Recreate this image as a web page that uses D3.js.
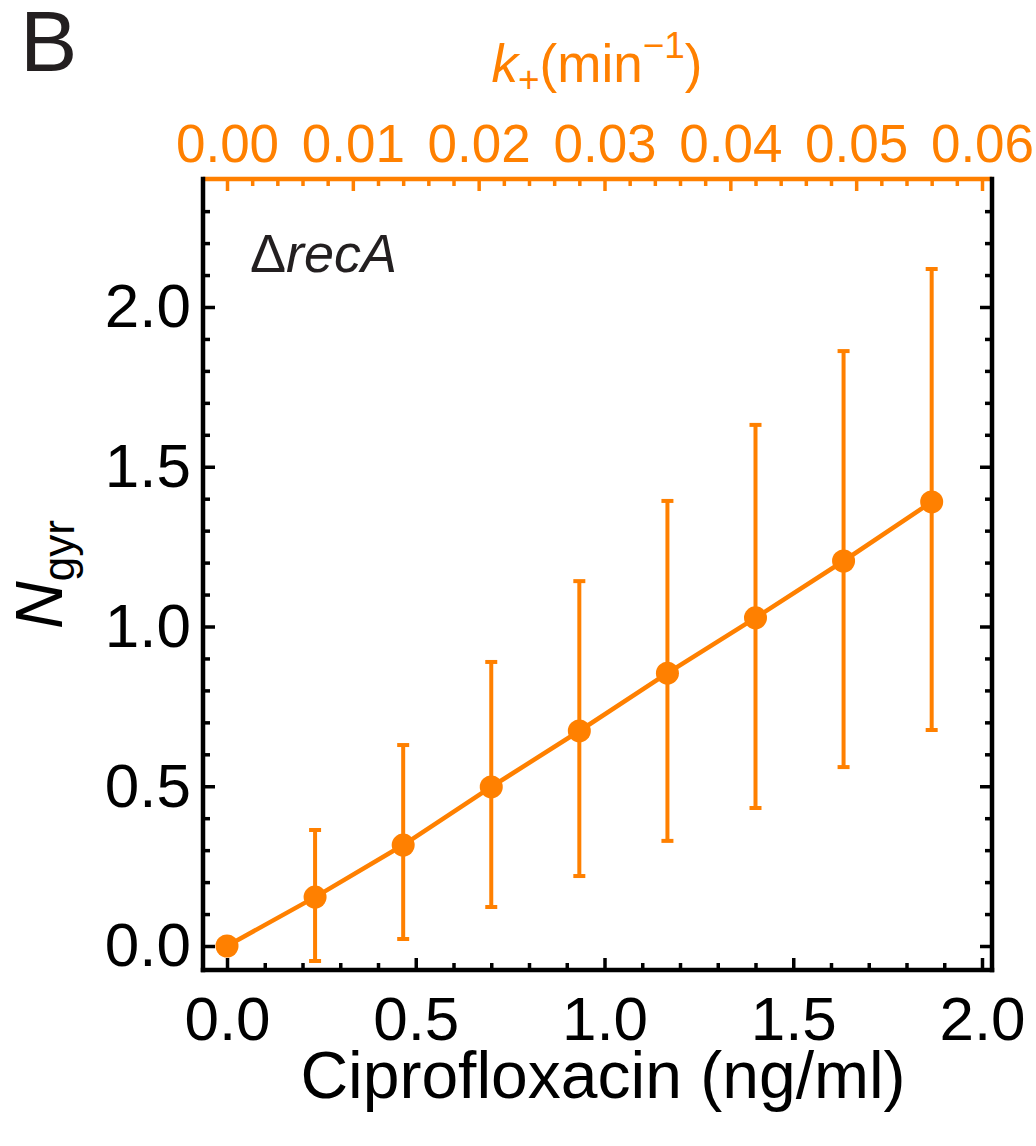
<!DOCTYPE html>
<html>
<head>
<meta charset="utf-8">
<script src="https://cdn.jsdelivr.net/npm/d3@7"></script>
<style>
    body { margin: 0; background: #fff; }
    text { font-family: "Liberation Sans", Arial, sans-serif; }
</style>
</head>
<body>
<svg id="plot"></svg>
<script>
'use strict';

const width = 1036;
const height = 1146;
const orange = '#ff8000';

// ciprofloxacin dose (ng/ml) and N_gyr with error bar ends
const ciproDose = [0, 0.2333, 0.4667, 0.7, 0.9333, 1.1667, 1.4, 1.6333, 1.8667];
const nGyrMean = [0, 0.153, 0.316, 0.498, 0.673, 0.854, 1.027, 1.205, 1.390];
const nGyrUpper = [null, 0.363, 0.629, 0.889, 1.142, 1.393, 1.631, 1.862, 2.119];
const nGyrLower = [null, -0.047, 0.022, 0.122, 0.219, 0.329, 0.432, 0.560, 0.676];

const xTicks = [0, 0.5, 1.0, 1.5, 2.0];
const yTicks = [0, 0.5, 1.0, 1.5, 2.0];
const kTicks = [0, 0.01, 0.02, 0.03, 0.04, 0.05, 0.06];
const kPerDose = 0.03;

const frame = {left: 203, right: 992, top: 179, bottom: 970};

const svg = d3.select('#plot').attr('width', width).attr('height', height);

const x = d3.scaleLinear().domain([-0.0636, 2.0265]).range([frame.left, frame.right]);
const y = d3.scaleLinear().domain([-0.0751, 2.4006]).range([frame.bottom, frame.top]);
const k = d3.scaleLinear()
    .domain(x.domain().map(d => d * kPerDose))
    .range([frame.left, frame.right]);

const minorX = d3.range(0, 2.01, 0.1).filter(d => !xTicks.some(t => Math.abs(t - d) < 1e-6));
const minorY = d3.range(0, 2.39, 0.1).filter(d => !yTicks.some(t => Math.abs(t - d) < 1e-6));
const minorK = d3.range(0, 0.0601, 0.002).filter(d => !kTicks.some(t => Math.abs(t - d) < 1e-6));

function styleAxis(g, color, size) {
    g.select('.domain').remove();
    g.selectAll('line').attr('stroke', color).attr('stroke-width', 3.5);
    g.selectAll('text').attr('fill', color).style('font-size', size + 'px');
}

function renderAxes() {
    // bottom
    svg.append('g').attr('transform', `translate(0,${frame.bottom})`)
        .call(d3.axisBottom(x).tickValues(minorX).tickSize(-7).tickFormat(''))
        .call(g => styleAxis(g, '#000', 62));
    svg.append('g').attr('transform', `translate(0,${frame.bottom})`)
        .call(d3.axisBottom(x).tickValues(xTicks).tickSize(-12).tickPadding(26).tickFormat(d3.format('.1f')))
        .call(g => styleAxis(g, '#000', 62));

    // left
    svg.append('g').attr('transform', `translate(${frame.left},0)`)
        .call(d3.axisLeft(y).tickValues(minorY).tickSize(-7).tickFormat(''))
        .call(g => styleAxis(g, '#000', 62));
    svg.append('g').attr('transform', `translate(${frame.left},0)`)
        .call(d3.axisLeft(y).tickValues(yTicks).tickSize(-12).tickPadding(12).tickFormat(d3.format('.1f')))
        .call(g => styleAxis(g, '#000', 62));

    // right, ticks only
    svg.append('g').attr('transform', `translate(${frame.right},0)`)
        .call(d3.axisRight(y).tickValues(minorY).tickSize(-7).tickFormat(''))
        .call(g => styleAxis(g, '#000', 62));
    svg.append('g').attr('transform', `translate(${frame.right},0)`)
        .call(d3.axisRight(y).tickValues(yTicks).tickSize(-12).tickFormat(''))
        .call(g => styleAxis(g, '#000', 62));

    // top, k+ in orange
    svg.append('g').attr('transform', `translate(0,${frame.top})`)
        .call(d3.axisTop(k).tickValues(minorK).tickSize(-7).tickFormat(''))
        .call(g => styleAxis(g, orange, 53));
    svg.append('g').attr('transform', `translate(0,${frame.top})`)
        .call(d3.axisTop(k).tickValues(kTicks).tickSize(-12).tickPadding(17).tickFormat(d3.format('.2f')))
        .call(g => styleAxis(g, orange, 53));

    // frame
    const lw = 4.5;
    svg.append('line').attr('x1', frame.left).attr('x2', frame.right)
        .attr('y1', frame.top).attr('y2', frame.top)
        .attr('stroke', orange).attr('stroke-width', lw);
    svg.append('line').attr('x1', frame.left - lw / 2).attr('x2', frame.right + lw / 2)
        .attr('y1', frame.bottom).attr('y2', frame.bottom)
        .attr('stroke', '#000').attr('stroke-width', lw);
    [frame.left, frame.right].forEach(px => {
        svg.append('line').attr('x1', px).attr('x2', px)
            .attr('y1', frame.top - lw / 2).attr('y2', frame.bottom + lw / 2)
            .attr('stroke', '#000').attr('stroke-width', lw);
    });
}

function renderData() {
    const points = ciproDose.map((d, i) => ({
        dose: d, mean: nGyrMean[i], hi: nGyrUpper[i], lo: nGyrLower[i]
    }));
    const bars = points.filter(p => p.hi !== null);
    const capHalf = 6;

    const g = svg.append('g');

    g.selectAll('.err').data(bars).enter().append('line')
        .attr('x1', p => x(p.dose)).attr('x2', p => x(p.dose))
        .attr('y1', p => y(p.lo)).attr('y2', p => y(p.hi))
        .attr('stroke', orange).attr('stroke-width', 4);
    ['hi', 'lo'].forEach(key => {
        g.selectAll('.cap-' + key).data(bars).enter().append('line')
            .attr('x1', p => x(p.dose) - capHalf).attr('x2', p => x(p.dose) + capHalf)
            .attr('y1', p => y(p[key])).attr('y2', p => y(p[key]))
            .attr('stroke', orange).attr('stroke-width', 4);
    });

    g.append('path').datum(points)
        .attr('d', d3.line().x(p => x(p.dose)).y(p => y(p.mean)))
        .attr('fill', 'none').attr('stroke', orange).attr('stroke-width', 4.5);

    g.selectAll('circle').data(points).enter().append('circle')
        .attr('cx', p => x(p.dose)).attr('cy', p => y(p.mean))
        .attr('r', 11.5).attr('fill', orange);
}

function renderLabels() {
    svg.append('text').attr('x', 20).attr('y', 71)
        .style('font-size', '86px').attr('fill', '#231f20').text('B');

    const strain = svg.append('text').attr('x', 250).attr('y', 272)
        .style('font-size', '54px').attr('fill', '#231f20');
    strain.append('tspan').text('Δ');
    strain.append('tspan').style('font-style', 'italic').text('recA');

    svg.append('text').attr('x', 603).attr('y', 1098)
        .attr('text-anchor', 'middle').style('font-size', '66px').attr('fill', '#000')
        .text('Ciprofloxacin (ng/ml)');

    const yTitle = svg.append('text')
        .attr('transform', `translate(62,${(frame.top + frame.bottom) / 2}) rotate(-90)`)
        .attr('text-anchor', 'middle').style('font-size', '66px').attr('fill', '#000');
    yTitle.append('tspan').style('font-style', 'italic').text('N');
    yTitle.append('tspan').attr('dy', 12).style('font-size', '44px').text('gyr');

    const kTitle = svg.append('text').attr('x', 597).attr('y', 82)
        .attr('text-anchor', 'middle').style('font-size', '53px').attr('fill', orange);
    kTitle.append('tspan').style('font-style', 'italic').text('k');
    kTitle.append('tspan').attr('dy', 10).style('font-size', '37px').text('+');
    kTitle.append('tspan').attr('dy', -10).text('(min');
    kTitle.append('tspan').attr('dy', -24).style('font-size', '37px').text('−1');
    kTitle.append('tspan').attr('dy', 24).text(')');
}

renderAxes();
renderData();
renderLabels();
</script>
</body>
</html>
